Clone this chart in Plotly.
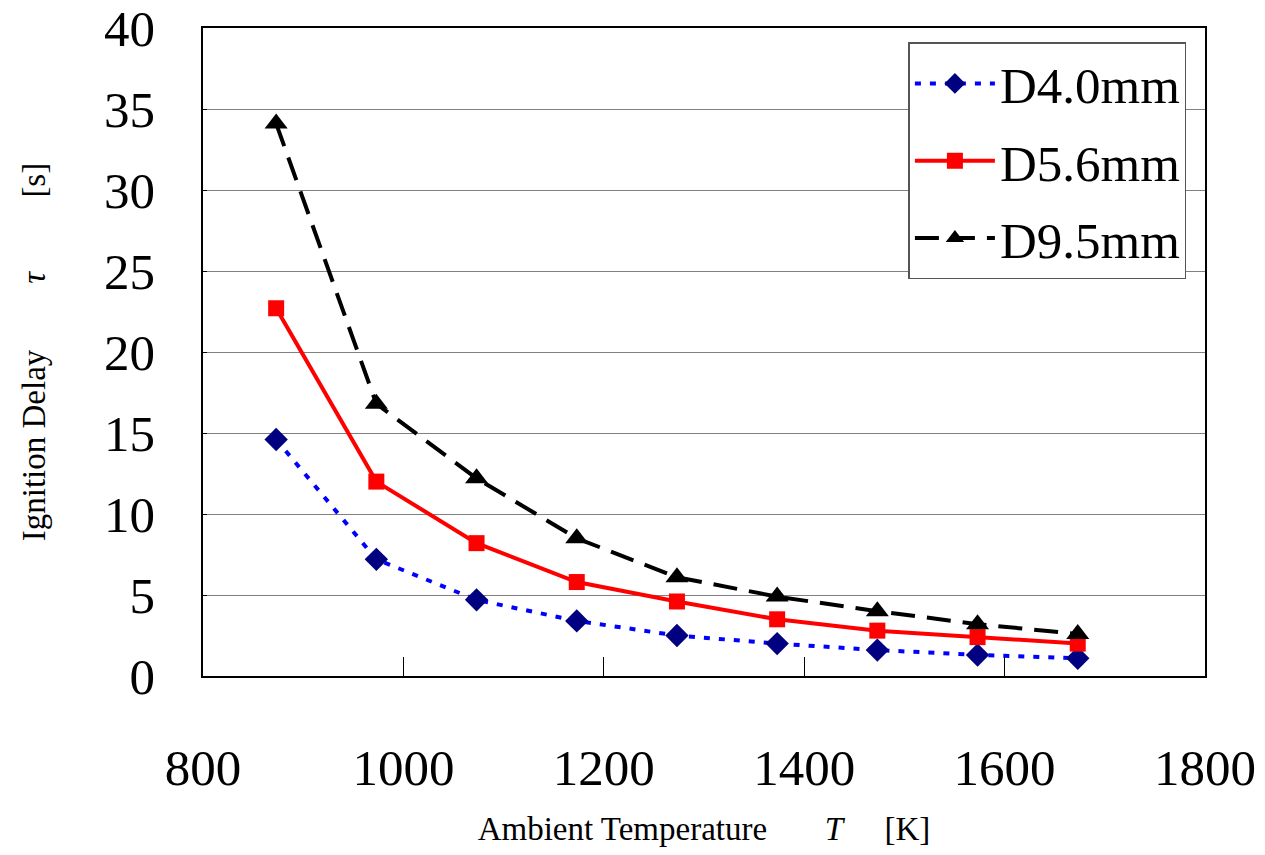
import plotly.graph_objects as go

temps = [873, 973, 1073, 1173, 1273, 1373, 1473, 1573, 1673]
d40 = [14.6, 7.2, 4.7, 3.4, 2.5, 2.0, 1.6, 1.3, 1.1]
d56 = [22.7, 12.0, 8.2, 5.8, 4.6, 3.5, 2.8, 2.4, 2.0]
d95 = [34.1, 16.8, 12.2, 8.5, 6.1, 4.9, 4.0, 3.2, 2.6]
names = ["D4.0mm", "D5.6mm", "D9.5mm"]

FONT = "Times New Roman, Liberation Serif, serif"

fig = go.Figure()
fig.add_trace(go.Scatter(x=temps, y=d40, name=names[0], mode="lines+markers", legendgroup="a",
                         line=dict(color="#0000FF", width=4, dash="6px,9px"),
                         marker=dict(symbol="diamond", size=18, color="#000080")))
fig.add_trace(go.Scatter(x=temps, y=d56, name=names[1], mode="lines+markers", legendgroup="b",
                         line=dict(color="#FF0000", width=4),
                         marker=dict(symbol="square", size=16, color="#FF0000")))
fig.add_trace(go.Scatter(x=temps, y=d95, name=names[2], mode="lines+markers", legendgroup="c",
                         line=dict(color="#000000", width=4, dash="24px,12px"),
                         marker=dict(symbol="triangle-up", size=20, color="#000000")))

fig.update_layout(
    width=1265, height=855,
    margin=dict(l=203, r=60, t=28, b=179),
    paper_bgcolor="white", plot_bgcolor="white",
    font=dict(family=FONT, color="black"),
    legend=dict(x=0.704, y=0.978, xanchor="left", yanchor="top",
                bgcolor="white", bordercolor="#555555", borderwidth=1.5,
                font=dict(size=51, family=FONT), tracegroupgap=8,
                itemwidth=80),
    xaxis=dict(range=[800, 1800], tickvals=[800, 1000, 1200, 1400, 1600, 1800],
               showgrid=False, showline=True, linecolor="black", linewidth=1.5,
               mirror=True, ticks="inside", ticklen=19, tickcolor="black",
               tickfont=dict(size=51, family=FONT), ticklabelstandoff=46,
               automargin=False,
               title=dict(text="Ambient Temperature&nbsp;&nbsp;&nbsp;&nbsp;&nbsp;&nbsp;&nbsp;<i>T</i>&nbsp;&nbsp;&nbsp;&nbsp;&nbsp;[K]",
                          font=dict(size=33, family=FONT), standoff=22),
               zeroline=False),
    yaxis=dict(range=[0, 40], tickvals=[0, 5, 10, 15, 20, 25, 30, 35, 40],
               showgrid=True, gridcolor="#808080", gridwidth=1,
               showline=True, linecolor="black", linewidth=1.5,
               mirror=True, ticks="inside", ticklen=4, tickcolor="black",
               tickfont=dict(size=51, family=FONT), ticklabelstandoff=36,
               automargin=False,
               title=dict(text="Ignition Delay&nbsp;&nbsp;&nbsp;&nbsp;&nbsp;&nbsp;&nbsp;&nbsp;<i>τ</i>&nbsp;&nbsp;&nbsp;&nbsp;&nbsp;&nbsp;&nbsp;&nbsp;&nbsp;[s]",
                          font=dict(size=33, family=FONT), standoff=48),
               zeroline=False),
)

fig.write_html("out.html")
